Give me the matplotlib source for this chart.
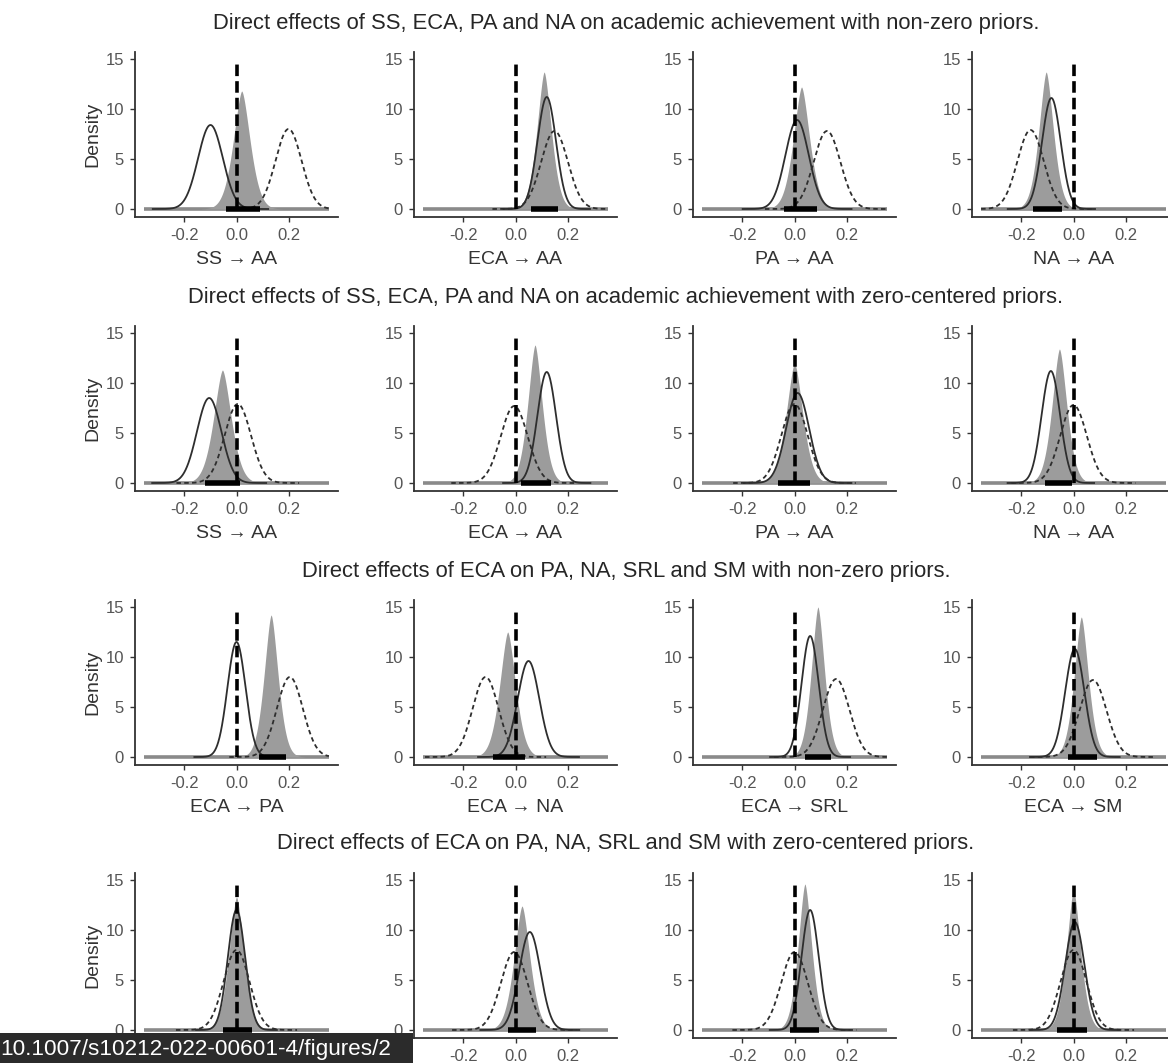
import numpy as np
import matplotlib.pyplot as plt
from matplotlib.patches import Rectangle
from math import gamma

plt.rcParams['font.family'] = ['Liberation Sans', 'DejaVu Sans']

# ---- data ----
row_titles = [
    "Direct effects of SS, ECA, PA and NA on academic achievement with non-zero priors.",
    "Direct effects of SS, ECA, PA and NA on academic achievement with zero-centered priors.",
    "Direct effects of ECA on PA, NA, SRL and SM with non-zero priors.",
    "Direct effects of ECA on PA, NA, SRL and SM with zero-centered priors.",
]
xlabels = [
    "SS → AA", "ECA → AA", "PA → AA", "NA → AA",
    "SS → AA", "ECA → AA", "PA → AA", "NA → AA",
    "ECA → PA", "ECA → NA", "ECA → SRL", "ECA → SM",
    "ECA → PA", "ECA → NA", "ECA → SRL", "ECA → SM",
]
# posterior (shaded): centre and peak density
post_mean = [0.020, 0.110, 0.027, -0.105,
             -0.054, 0.075, 0.000, -0.054,
             0.133, -0.030, 0.090, 0.030,
             0.000, 0.025, 0.040, 0.000]
post_peak = [11.8, 13.7, 12.2, 13.7,
             11.3, 13.8, 12.0, 13.4,
             14.2, 12.5, 15.0, 14.0,
             13.3, 12.4, 14.6, 14.0]
# solid curve
lik_mean = [-0.100, 0.120, 0.010, -0.085,
            -0.105, 0.120, 0.012, -0.087,
            0.000, 0.050, 0.060, 0.005,
            0.000, 0.055, 0.060, 0.005]
lik_peak = [8.4, 11.2, 8.9, 11.1,
            8.5, 11.1, 9.0, 11.2,
            11.5, 9.6, 12.1, 10.8,
            12.0, 9.8, 12.0, 10.8]
# dashed prior curve
prior_mean = [0.200, 0.150, 0.125, -0.165,
              0.005, -0.005, 0.000, 0.000,
              0.205, -0.115, 0.160, 0.075,
              0.000, -0.005, 0.000, 0.000]
prior_peak = [8.0, 7.8, 7.8, 7.9,
              7.9, 7.7, 7.9, 7.8,
              8.0, 8.0, 7.8, 7.7,
              8.0, 7.8, 7.8, 8.0]
# credible interval bar
ci_lo = [-0.040, 0.060, -0.040, -0.155,
         -0.120, 0.020, -0.065, -0.110,
         0.085, -0.085, 0.040, -0.020,
         -0.050, -0.030, -0.018, -0.065]
ci_hi = [0.090, 0.165, 0.085, -0.045,
         0.012, 0.135, 0.060, -0.004,
         0.190, 0.035, 0.140, 0.090,
         0.058, 0.080, 0.093, 0.050]

W, H = 1168, 1063
fig = plt.figure(figsize=(W / 100, H / 100), dpi=100)
fig.patch.set_facecolor('white')

col_left = [135, 414, 693, 972]
row_zero = [209, 483, 757, 1030]
ax_w = 203
px_unit = 10.0
ylo, yhi = -0.75, 15.75


def curve(m, peak, beta=2.0):
    # bell curve with given centre and peak height (beta < 2 gives a sharper peak)
    alpha = beta / (2 * peak * gamma(1 / beta))
    x = np.linspace(max(m - 3.3 * alpha, -0.355), min(m + 3.3 * alpha, 0.355), 400)
    return x, peak * np.exp(-(np.abs(x - m) / alpha) ** beta)


for r in range(4):
    z = row_zero[r]
    top = z - yhi * px_unit
    bot = z - ylo * px_unit
    fig.text(626 / W, 1 - (z - 186) / H, row_titles[r], ha='center', va='center',
             fontsize=15.8, color='#262626')
    for c in range(4):
        i = r * 4 + c
        ax = fig.add_axes([col_left[c] / W, 1 - bot / H, ax_w / W, (bot - top) / H])
        ax.set_xlim(-0.39, 0.39)
        ax.set_ylim(ylo, yhi)

        ax.plot([-0.355, 0.355], [0, 0], color='#8a8a8a', lw=2.6, solid_capstyle='butt', zorder=1)

        xs, ys = curve(post_mean[i], post_peak[i], beta=1.6)
        ax.fill_between(xs, 0, ys, color='#9c9c9c', lw=0, zorder=2)

        xs, ys = curve(lik_mean[i], lik_peak[i])
        ax.plot(xs, ys, color='#2e2e2e', lw=1.3, zorder=3)

        xs, ys = curve(prior_mean[i], prior_peak[i])
        ax.plot(xs, ys, color='#2e2e2e', lw=1.3, dashes=(2.5, 1.8), zorder=3)

        ax.plot([0, 0], [0, 14.8], color='black', lw=2.6, dashes=(3.2, 1.4), zorder=4)
        ax.plot([ci_lo[i], ci_hi[i]], [0, 0], color='black', lw=4, solid_capstyle='butt', zorder=5)

        for s in ['top', 'right']:
            ax.spines[s].set_visible(False)
        for s in ['left', 'bottom']:
            ax.spines[s].set_color('#333333')
            ax.spines[s].set_linewidth(1.3)
        ax.set_xticks([-0.2, 0.0, 0.2])
        ax.set_yticks([0, 5, 10, 15])
        if r == 3 and c == 0:
            # hidden under the DOI banner in the screenshot
            ax.set_xticklabels([])
        else:
            ax.set_xticklabels(['-0.2', '0.0', '0.2'])
        ax.tick_params(colors='#333333', labelcolor='#555555', labelsize=12,
                       length=3.5, width=1.0, pad=4.5)
        if r < 3:
            # bottom row labels fall below the cropped screenshot
            ax.set_xlabel(xlabels[i], fontsize=14, color='#333333', labelpad=6)
        if c == 0:
            ax.set_ylabel('Density', fontsize=14, color='#333333', labelpad=3)

# DOI banner overlaid on the bottom-left corner of the screenshot
fig.patches.append(Rectangle((0, 0), 413 / W, 30 / H, transform=fig.transFigure,
                             facecolor='#2b2b2b', edgecolor='none', zorder=10))
fig.text(0, 14 / H, "10.1007/s10212-022-00601-4/figures/2", ha='left', va='center',
         fontsize=16.2, color='white', zorder=11)

fig.savefig('out.png', dpi=100)
